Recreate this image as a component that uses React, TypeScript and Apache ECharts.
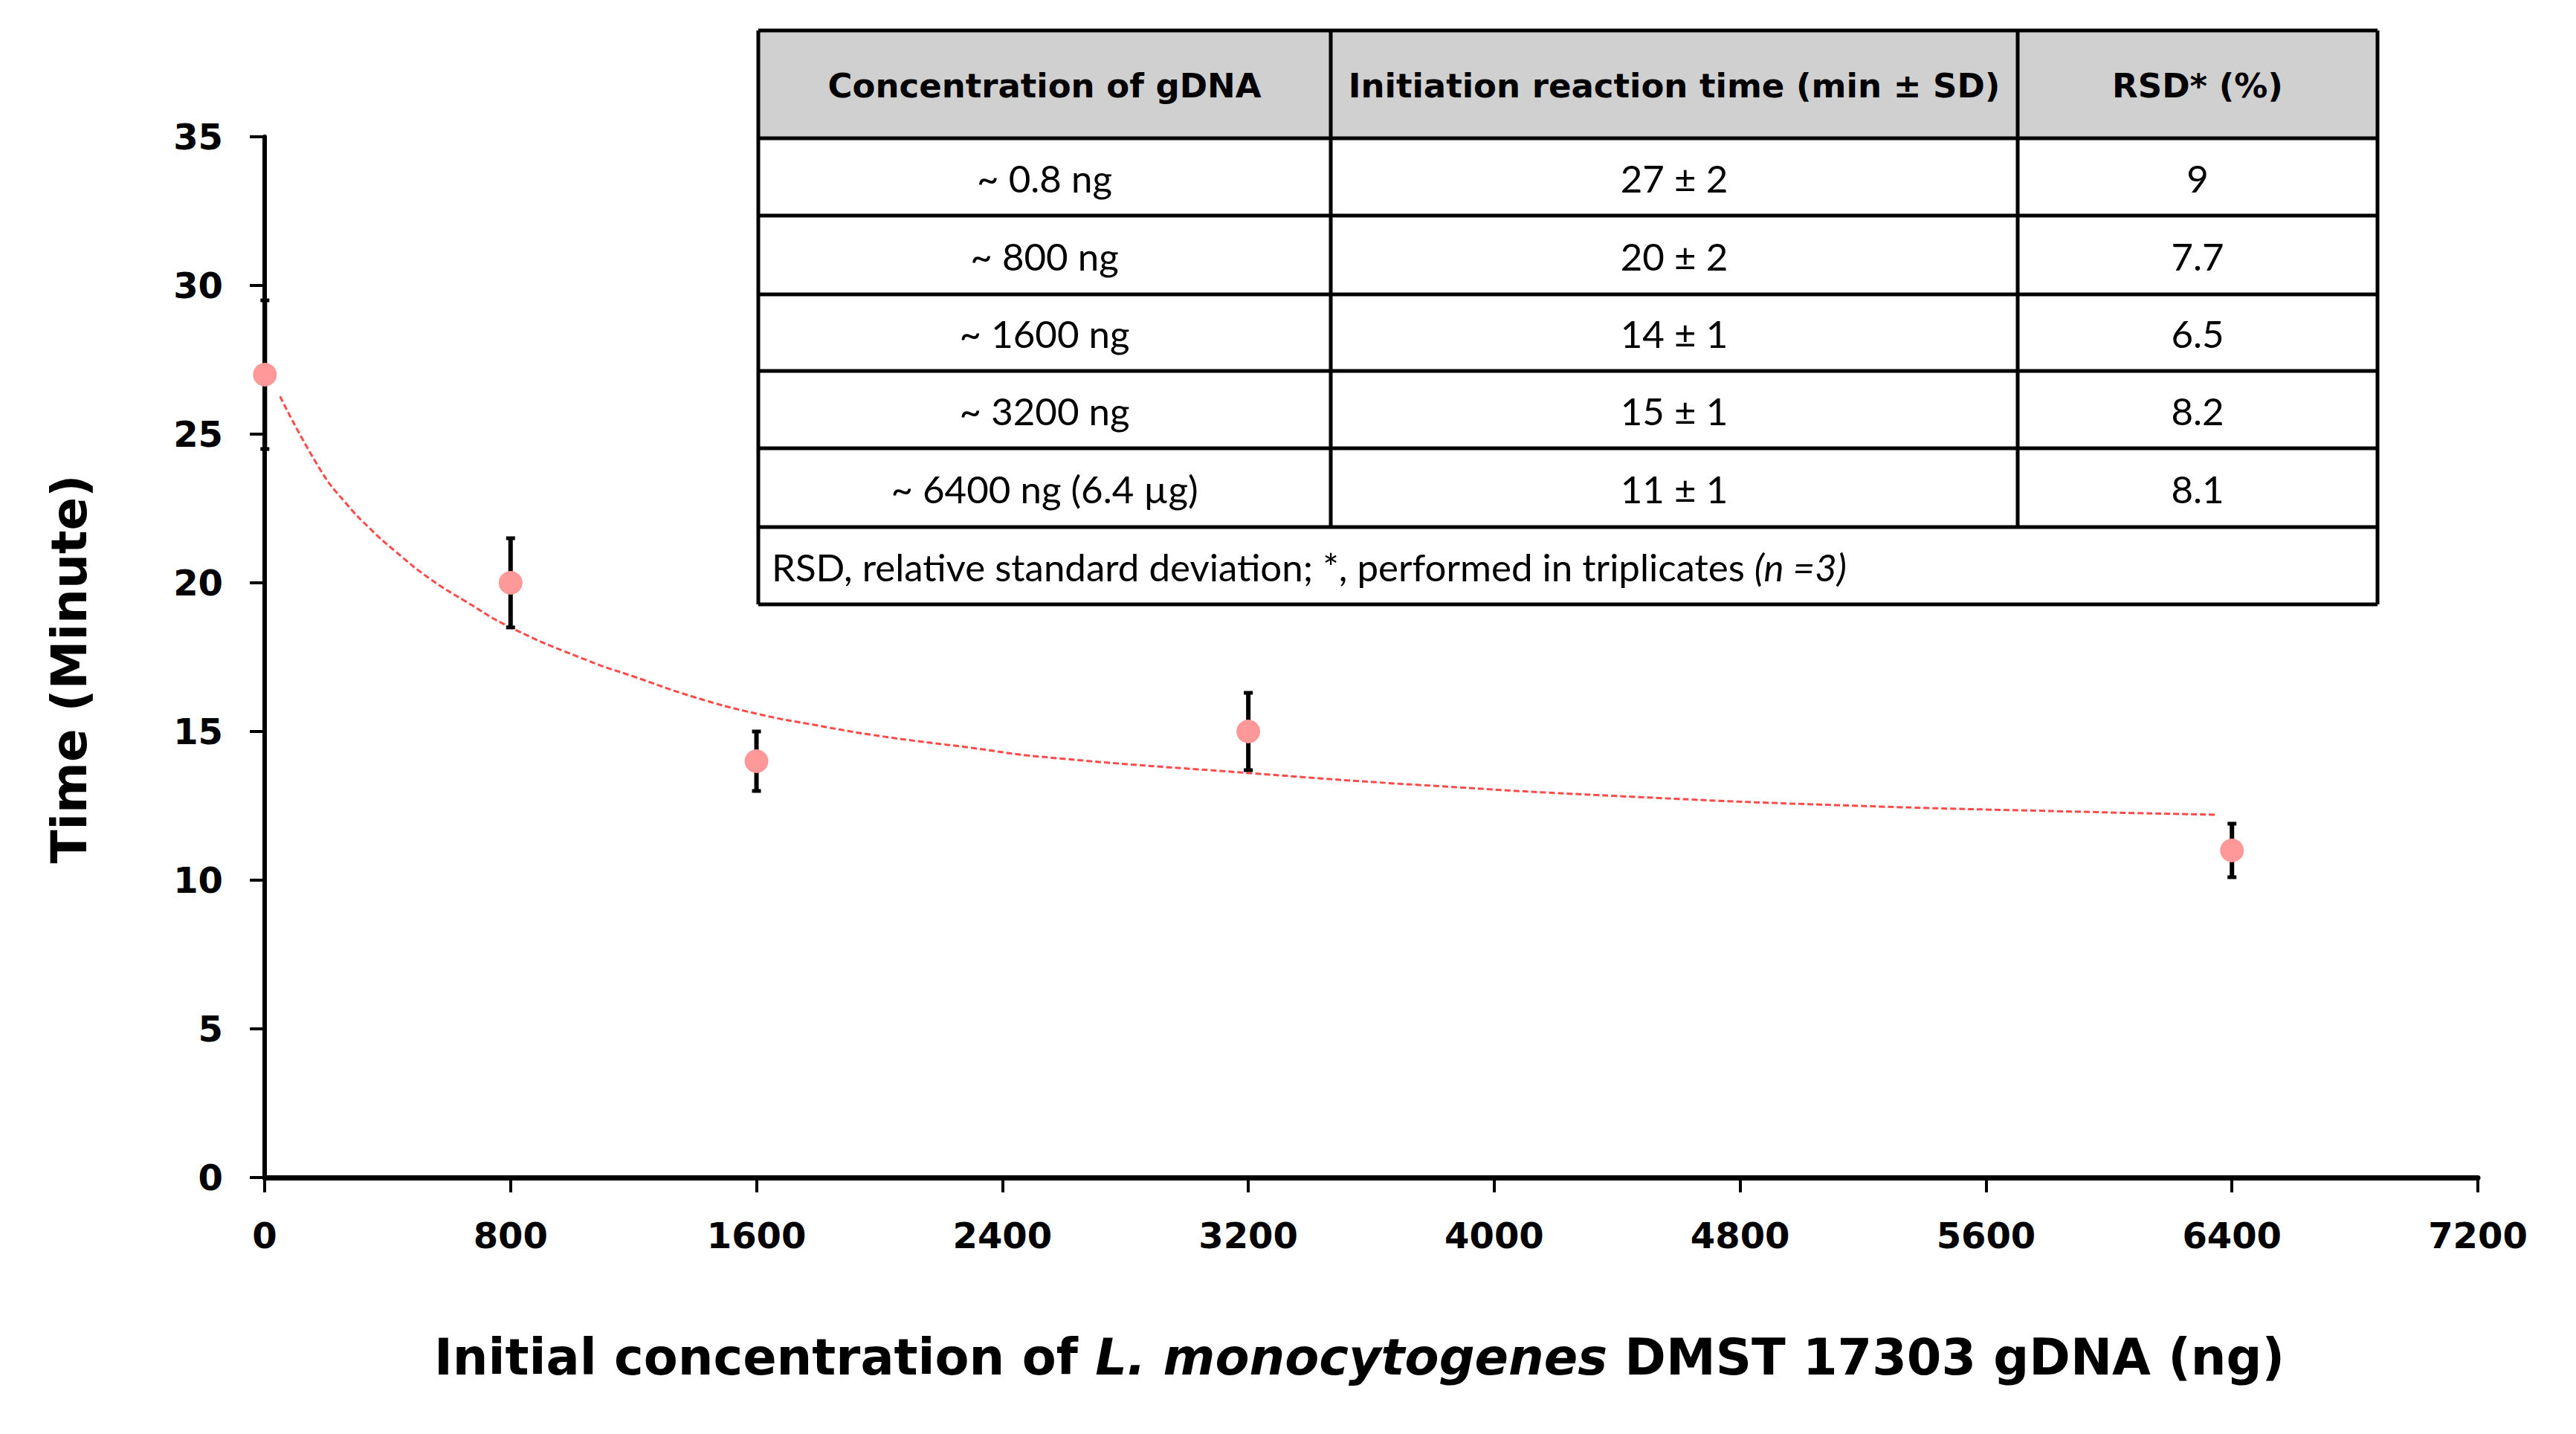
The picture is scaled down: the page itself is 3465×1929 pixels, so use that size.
import React, { useEffect, useRef } from 'react';
import * as echarts from 'echarts';

// ---- data ----
const concentrations = [0.8, 800, 1600, 3200, 6400];
const times = [27, 20, 14, 15, 11];
const errors = [2.5, 1.5, 1.0, 1.3, 0.9];

// trend line
const trendX = [50, 183, 264, 344, 425, 537, 650, 804, 1050, 1200, 1400, 1600, 1800, 2000, 2300, 2525, 3205, 3758, 4460, 5185, 5911, 6346];
const trendY = [26.27, 23.77, 22.68, 21.81, 21.06, 20.14, 19.4, 18.48, 17.39, 16.85, 16.15, 15.6, 15.2, 14.85, 14.45, 14.15, 13.6, 13.2, 12.8, 12.5, 12.3, 12.2];

const xMax = 7200;
const xStep = 800;
const yMax = 35;
const yStep = 5;

const tableHeader = ['Concentration of gDNA', 'Initiation reaction time (min ± SD)', 'RSD* (%)'];
const tableConc = ['~ 0.8 ng', '~ 800 ng', '~ 1600 ng', '~ 3200 ng', '~ 6400 ng (6.4 µg)'];
const tableTime = ['27 ± 2', '20 ± 2', '14 ± 1', '15 ± 1', '11 ± 1'];
const tableRsd = ['9', '7.7', '6.5', '8.2', '8.1'];
const footnoteText = 'RSD, relative standard deviation; *, performed in triplicates ';
const footnoteItalic = '(n =3)';

// ---- layout (positions) ----
const colEdges = [1020, 1790, 2714, 3198];
const rowEdges = [41, 186, 290, 396, 499, 603, 709, 813];

function buildTable(): any[] {
  const els: any[] = [];
  const left = colEdges[0];
  const right = colEdges[colEdges.length - 1];
  const top = rowEdges[0];
  const bottom = rowEdges[rowEdges.length - 1];
  els.push({ type: 'rect', shape: { x: left, y: top, width: right - left, height: bottom - top }, style: { fill: '#ffffff' }, z: 10 });
  els.push({ type: 'rect', shape: { x: left, y: top, width: right - left, height: rowEdges[1] - top }, style: { fill: '#d0d0d0' }, z: 10 });
  const lw = 5;
  rowEdges.forEach((y) => {
    els.push({ type: 'line', shape: { x1: left, y1: y, x2: right, y2: y }, style: { stroke: '#000', lineWidth: lw }, z: 12 });
  });
  [left, right].forEach((x) => {
    els.push({ type: 'line', shape: { x1: x, y1: top, x2: x, y2: bottom }, style: { stroke: '#000', lineWidth: lw }, z: 12 });
  });
  [colEdges[1], colEdges[2]].forEach((x) => {
    els.push({ type: 'line', shape: { x1: x, y1: top, x2: x, y2: rowEdges[6] }, style: { stroke: '#000', lineWidth: lw }, z: 12 });
  });
  const cx = (i: number) => (colEdges[i] + colEdges[i + 1]) / 2;
  const cy = (r: number) => (rowEdges[r] + rowEdges[r + 1]) / 2;
  tableHeader.forEach((t, i) => {
    els.push({
      type: 'text', z: 13, x: cx(i), y: cy(0) + 2,
      style: { text: t, fill: '#000', font: 'bold 45px "DejaVu Sans"', align: 'center', verticalAlign: 'middle' },
    });
  });
  const cols = [tableConc, tableTime, tableRsd];
  cols.forEach((col, ci) => {
    col.forEach((t, ri) => {
      els.push({
        type: 'text', z: 13, x: cx(ci), y: cy(ri + 1) + 1,
        style: { text: t, fill: '#000', font: '51px Lato', align: 'center', verticalAlign: 'middle' },
      });
    });
  });
  els.push({
    type: 'text', z: 13, x: left + 18, y: cy(6) + 1,
    style: {
      text: '{n|' + footnoteText + '}{i|' + footnoteItalic + '}',
      align: 'left', verticalAlign: 'middle',
      rich: {
        n: { fontFamily: 'Lato', fontSize: 51, fill: '#000' },
        i: { fontFamily: 'Lato', fontSize: 51, fontStyle: 'italic', fill: '#000' },
      },
    },
  });
  return els;
}

export default function App() {
  const ref = useRef<HTMLDivElement>(null);
  useEffect(() => {
    if (!ref.current) return;
    const chart = echarts.init(ref.current, undefined, { renderer: 'svg' });
    const errData = concentrations.map((c, i) => [c, times[i] - errors[i], times[i] + errors[i]]);
    const scatterData = concentrations.map((c, i) => [c, times[i]]);
    const trendData = trendX.map((x, i) => [x, trendY[i]]);
    const axisFont = { fontFamily: 'DejaVu Sans', fontWeight: 'bold' as const, fontSize: 48, color: '#000' };
    chart.setOption({
      animation: false,
      backgroundColor: '#ffffff',
      grid: { left: 356, top: 184, width: 2977, height: 1400, containLabel: false },
      xAxis: {
        type: 'value', min: 0, max: xMax, interval: xStep,
        axisLine: { show: true, onZero: false, lineStyle: { color: '#000', width: 7 } },
        axisTick: { show: true, length: 20, lineStyle: { color: '#000', width: 4 } },
        axisLabel: { ...axisFont, margin: 54, formatter: (v: number) => String(v) },
        splitLine: { show: false },
        name: '{b|Initial concentration of }{i|L. monocytogenes}{b| DMST 17303 gDNA (ng)}',
        nameLocation: 'middle', nameGap: 208,
        nameTextStyle: {
          padding: [0, 32, 0, 0],
          rich: {
            b: { fontFamily: 'DejaVu Sans', fontWeight: 'bold', fontSize: 67, color: '#000' },
            i: { fontFamily: 'DejaVu Sans', fontWeight: 'bold', fontStyle: 'italic', fontSize: 67, color: '#000' },
          },
        },
      },
      yAxis: {
        type: 'value', min: 0, max: yMax, interval: yStep,
        axisLine: { show: true, lineStyle: { color: '#000', width: 6 } },
        axisTick: { show: true, length: 20, lineStyle: { color: '#000', width: 4 } },
        axisLabel: { ...axisFont, margin: 56 },
        splitLine: { show: false },
        name: 'Time (Minute)', nameLocation: 'middle', nameGap: 230,
        nameTextStyle: { fontFamily: 'DejaVu Sans', fontWeight: 'bold', fontSize: 66, color: '#000', padding: [0, 32, 0, 0] },
      },
      series: [
        {
          type: 'line', data: trendData, smooth: 0.5, showSymbol: false, symbol: 'none', z: 2,
          lineStyle: { color: '#ff4a4a', width: 3, type: [8, 4] },
        },
        {
          type: 'custom', data: errData, z: 3,
          encode: { x: 0, y: [1, 2] },
          renderItem: (params: any, api: any) => {
            const x = api.value(0);
            const hi = api.coord([x, api.value(2)]);
            const lo = api.coord([x, api.value(1)]);
            const cap = 6;
            const st = { stroke: '#000', lineWidth: 6 };
            return {
              type: 'group',
              children: [
                { type: 'line', shape: { x1: hi[0], y1: hi[1], x2: lo[0], y2: lo[1] }, style: st },
                { type: 'line', shape: { x1: hi[0] - cap, y1: hi[1], x2: hi[0] + cap, y2: hi[1] }, style: { stroke: '#000', lineWidth: 5 } },
                { type: 'line', shape: { x1: lo[0] - cap, y1: lo[1], x2: lo[0] + cap, y2: lo[1] }, style: { stroke: '#000', lineWidth: 5 } },
              ],
            };
          },
        },
        {
          type: 'scatter', data: scatterData, symbol: 'circle', symbolSize: 32, z: 4,
          itemStyle: { color: '#ff9999', opacity: 1 },
        },
      ],
      graphic: buildTable(),
    });
    return () => chart.dispose();
  }, []);
  return <div ref={ref} style={{ position: 'absolute', left: 0, top: 0, width: 3465, height: 1929 }} />;
}
